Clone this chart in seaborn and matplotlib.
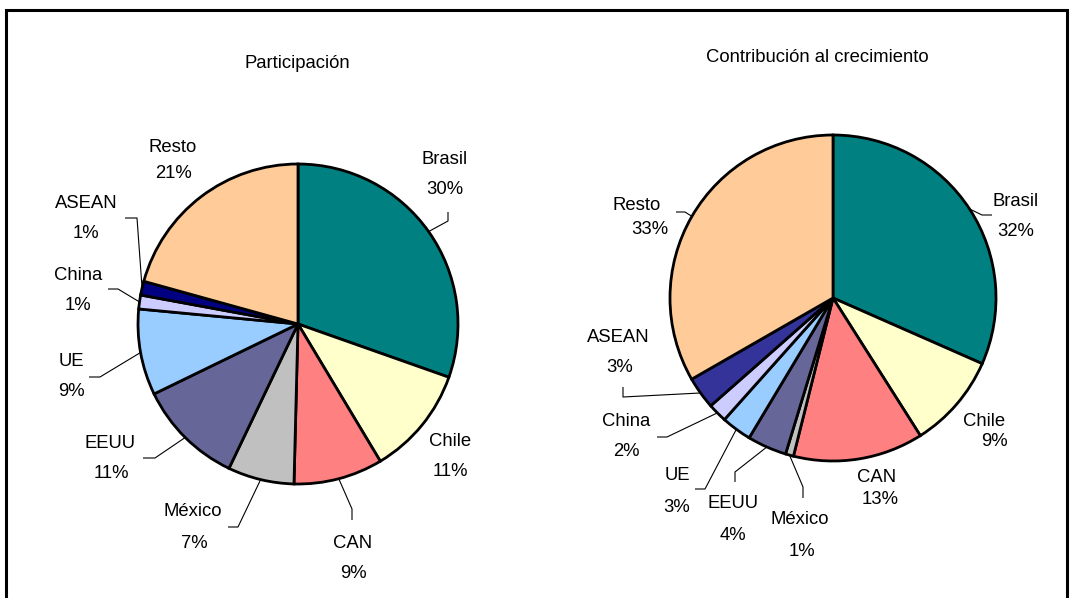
import matplotlib
matplotlib.use("Agg")
import numpy as np
import matplotlib.pyplot as plt
import seaborn as sns

# ---------------- data ----------------
regions = ["Brasil", "Chile", "CAN", "México", "EEUU", "UE", "China", "ASEAN", "Resto"]
participacion = [30.4, 11.0, 9.0, 6.7, 10.7, 8.7, 1.4, 1.4, 20.7]
contribucion = [31.6, 9.4, 12.9, 0.8, 3.9, 3.0, 1.9, 3.2, 33.3]
titles = ["Participación", "Contribución al crecimiento"]

colors_left = ["#008080", "#FFFFCC", "#FF8080", "#C0C0C0", "#666699",
               "#99CCFF", "#CCCCFF", "#000080", "#FFCC99"]
colors_right = ["#008080", "#FFFFCC", "#FF8080", "#C0C0C0", "#666699",
                "#99CCFF", "#CCCCFF", "#333399", "#FFCC99"]

# ---------------- layout (pixels) ----------------
W, H = 1073, 598
sns.set_theme(style="white")
plt.rcParams["font.family"] = ["Liberation Sans", "DejaVu Sans"]
FS = 13.3

fig = plt.figure(figsize=(W / 100, H / 100), dpi=100)
fig.patch.set_facecolor("white")
ax = fig.add_axes([0, 0, 1, 1])

pies = [
    dict(values=participacion, colors=colors_left, center=(298, 324), r=160,
         title_pos=(297, 63),
         name_pos=[(445, 160), (450, 441), (353, 543), (193, 512), (110, 443),
                   (71, 362), (78, 276), (86, 204), (173, 147)],
         pct_pos=[(445, 190), (450, 472), (353, 573), (194, 543), (111, 473),
                  (71, 392), (78, 305), (86, 233), (174, 173)],
         leaders={0: [(448, 221), (448, 212)],
                  2: [(352, 509), (352, 520)],
                  3: [(238, 527), (228, 527)],
                  4: [(155, 458), (143, 458)],
                  5: [(100, 377), (89, 377)],
                  6: [(118, 289), (108, 289)],
                  7: [(137, 218), (125, 218)]}),
    dict(values=contribucion, colors=colors_right, center=(833, 298), r=163,
         title_pos=(817, 57),
         name_pos=[(1016, 202), (984, 422), (877, 478), (800, 520), (733, 504),
                   (677, 475), (626, 422), (618, 337), (637, 206)],
         pct_pos=[(1016, 232), (994, 442), (880, 500), (802, 551), (733, 535),
                  (677, 507), (626, 452), (620, 368), (650, 229)],
         leaders={0: [(982, 215), (992, 215)],
                  8: [(685, 212), (676, 212)],
                  7: [(623, 397), (623, 387)],
                  6: [(667, 437), (657, 437)],
                  5: [(705, 489), (695, 489)],
                  4: [(735, 472), (735, 482)],
                  3: [(803, 487), (803, 498)]}),
]

for k, p in enumerate(pies):
    vals = p["values"]
    cx, cy = p["center"]
    r = p["r"]
    # y axis is inverted (pixel coordinates): startangle=-90 is the top,
    # counterclock=True draws clockwise on screen.
    wedges, _ = ax.pie(vals, colors=p["colors"], center=(cx, cy), radius=r,
                       startangle=-90, counterclock=True,
                       wedgeprops=dict(edgecolor="black", linewidth=2.0))
    ax.text(*p["title_pos"], titles[k], ha="center", va="center",
            fontsize=FS, color="black")
    for i, (name, v) in enumerate(zip(regions, vals)):
        ax.text(*p["name_pos"][i], name, ha="center", va="center",
                fontsize=FS, color="black")
        ax.text(*p["pct_pos"][i], f"{v:.0f}%", ha="center", va="center",
                fontsize=FS, color="black")
        if i in p["leaders"]:
            w = wedges[i]
            mid = np.deg2rad((w.theta1 + w.theta2) / 2)
            sx, sy = cx + r * np.cos(mid), cy + r * np.sin(mid)
            pts = [(sx, sy)] + p["leaders"][i]
            xs, ys = zip(*pts)
            ax.plot(xs, ys, color="black", linewidth=0.8, solid_capstyle="butt")

ax.set_aspect("auto")
ax.set_xlim(0, W)
ax.set_ylim(H, 0)
ax.axis("off")

# outer frame (bottom edge cut off in the reference)
ax.plot([6, 6, 1067, 1067], [H + 5, 10, 10, H + 5], color="black",
        linewidth=2.2, clip_on=False, solid_joinstyle="miter")

fig.savefig("out.png", dpi=100, facecolor="white")
